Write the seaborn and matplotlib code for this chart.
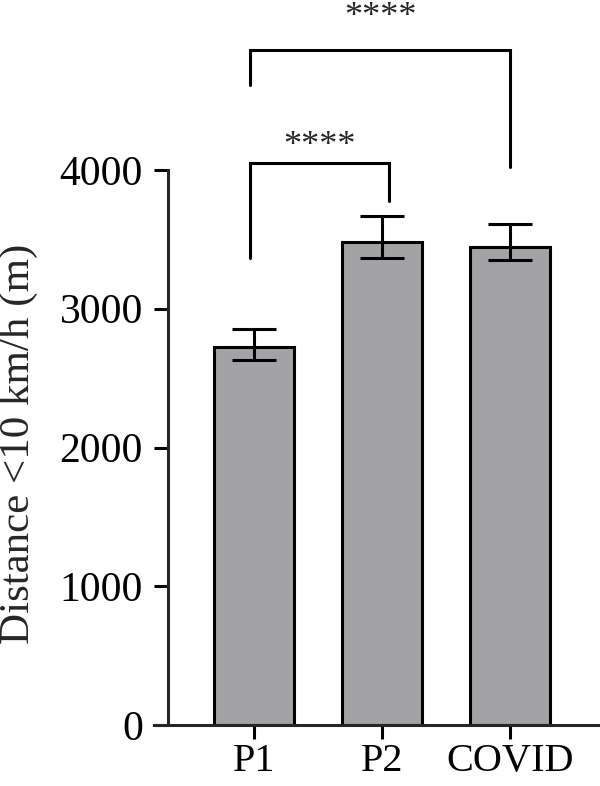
import matplotlib
matplotlib.use('Agg')
import matplotlib.pyplot as plt
import seaborn as sns
import pandas as pd
import numpy as np

# 데이터
groups = ['P1', 'P2', 'COVID']
means = [2722, 3479, 3447]
err_low = [2631, 3364, 3349]
err_high = [2854, 3666, 3611]
yticks = [0, 1000, 2000, 3000, 4000]
sig_label = '****'

sns.set_theme(style='ticks')
plt.rcParams['font.family'] = ['Liberation Serif', 'DejaVu Serif']

df = pd.DataFrame({'group': groups, 'value': means})

fig = plt.figure(figsize=(6, 7.86), dpi=100)
ax = fig.add_axes([154 / 600, 61 / 786, 446 / 600, 555 / 786])

sns.barplot(data=df, x='group', y='value', color='#a3a3a6', width=0.625,
            edgecolor='black', linewidth=2.2, saturation=1, errorbar=None, ax=ax)

# 오차막대
yerr = np.array([np.array(means) - np.array(err_low), np.array(err_high) - np.array(means)])
ax.errorbar(np.arange(len(groups)), means, yerr=yerr, fmt='none', ecolor='black',
            elinewidth=2.2, capsize=15.5, capthick=2.2, zorder=5)

ax.set_ylim(0, 4000)
ax.set_xlim(-0.781, 2.70)
ax.set_yticks(yticks)
ax.set_xlabel('')
ax.set_ylabel('')

for s in ['top', 'right']:
    ax.spines[s].set_visible(False)
ax.spines['left'].set_position(('data', -0.672))
ax.spines['left'].set_linewidth(2.2)
ax.spines['bottom'].set_linewidth(2.2)
ax.tick_params(axis='both', length=10, width=2.2, labelsize=30, colors='black')
ax.tick_params(axis='y', pad=8)
ax.tick_params(axis='x', pad=3, labelsize=29)

fig.text(19 / 600, 1 - 444 / 786, 'Distance <10 km/h (m)', rotation=90,
         ha='center', va='center', fontsize=31)

# 유의성 표시 괄호
def bracket(x1, x2, y, y1, y2, text, ty):
    ax.plot([x1, x1, x2, x2], [y1, y, y, y2], color='black', lw=2.2,
            clip_on=False, solid_joinstyle='miter')
    ax.text((x1 + x2) / 2, ty, text, ha='center', va='baseline', fontsize=26,
            clip_on=False)

bracket(-0.03, 1.05, 4048, 3364, 3779, sig_label, 4110)
bracket(-0.03, 2.0, 4865, 4613, 4024, sig_label, 5035)

fig.savefig('out.png', dpi=100)
